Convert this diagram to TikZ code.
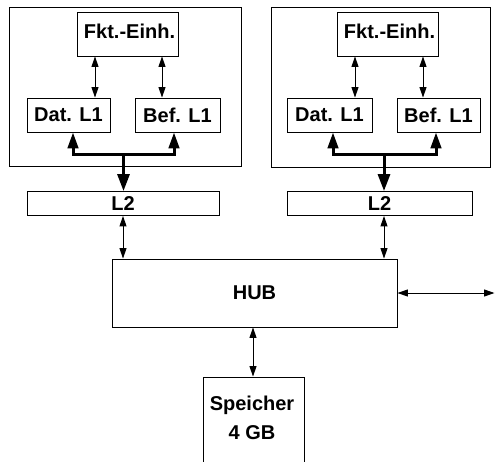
\documentclass[tikz,border=0pt]{standalone}
\usepackage{fontspec}
\setmainfont{Liberation Sans}
\usetikzlibrary{arrows.meta}
\tikzset{
  box/.style={draw, line width=0.9pt, rectangle, inner sep=0pt, font=\fontsize{20}{24}\selectfont\bfseries},
  dbl/.style={line width=1pt, {Triangle[length=10.5pt,width=7pt]}-{Triangle[length=10.5pt,width=7pt]}},
  bus/.style={line width=3pt, line join=miter, {Triangle[length=16pt,width=10.5pt]}-{Triangle[length=16pt,width=10.5pt]}},
  busdown/.style={line width=3pt, -{Triangle[length=17pt,width=12pt]}},
}
\begin{document}
\begin{tikzpicture}[x=1pt,y=-1pt]
\useasboundingbox (0,0) rectangle (495,461);
\clip (0,0) rectangle (495,461);
% left processor
\node[box, minimum width=231.5pt, minimum height=159pt] (outA) at (125.25,86.5) {};
\node[box, minimum width=101pt, minimum height=44pt, text depth=6pt] (fktA) at (127.5,34) {\hspace*{4pt}Fkt.-Einh.};
\node[box, minimum width=83pt, minimum height=34pt] (datA) at (68.5,115) {Dat. L1};
\node[box, minimum width=85pt, minimum height=34pt] (befA) at (177.5,115) {Bef. L1};
\node[box, minimum width=192pt, minimum height=24pt] (l2A) at (123,203.5) {L2};
\coordinate (jA) at (123.5,154);
% right processor
\node[box, minimum width=219pt, minimum height=160pt] (outB) at (380.5,87) {};
\node[box, minimum width=101pt, minimum height=44pt, text depth=6pt] (fktB) at (387.5,34) {\hspace*{4pt}Fkt.-Einh.};
\node[box, minimum width=85pt, minimum height=34pt] (datB) at (329.5,115) {Dat. L1};
\node[box, minimum width=83pt, minimum height=34pt] (befB) at (438.5,115) {Bef. L1};
\node[box, minimum width=185pt, minimum height=24pt] (l2B) at (379.5,203.5) {L2};
\coordinate (jB) at (384,154);
% hub and memory
\node[box, minimum width=285pt, minimum height=68pt] (hub) at (254.5,293) {HUB};
\node[box, minimum width=101pt, minimum height=110pt] (mem) at (253.5,432) {};
\node[font=\fontsize{20}{29}\selectfont\bfseries, align=center, inner sep=0pt] (memtext) at (252,418) {Speicher\\4 GB};
\coordinate (ext) at (494.5,293);
% connectors left
\draw[dbl] ([xshift=-32.5pt]fktA.south) -- ([xshift=-32.5pt]fktA.south |- datA.north);
\draw[dbl] ([xshift=34.5pt]fktA.south) -- ([xshift=34.5pt]fktA.south |- befA.north);
\draw[bus] ([xshift=4.5pt]datA.south) |- (jA) -| ([xshift=-3.5pt]befA.south);
\draw[busdown] (jA) -- (jA |- l2A.north);
% connectors right
\draw[dbl] ([xshift=-32.5pt]fktB.south) -- ([xshift=-32.5pt]fktB.south |- datB.north);
\draw[dbl] ([xshift=35.5pt]fktB.south) -- ([xshift=35.5pt]fktB.south |- befB.north);
\draw[bus] ([xshift=3.5pt]datB.south) |- (jB) -| ([xshift=-2.5pt]befB.south);
\draw[busdown] (jB) -- (jB |- l2B.north);
% L2 to hub
\draw[dbl] (l2A.south) -- (l2A.south |- hub.north);
\draw[dbl] ([xshift=4.5pt]l2B.south) -- ([xshift=4.5pt]l2B.south |- hub.north);
% hub to memory and outside
\draw[dbl] ([xshift=-1.5pt]hub.south) -- ([xshift=-1.5pt]hub.south |- mem.north);
\draw[dbl] (hub.east) -- (ext);
\end{tikzpicture}
\end{document}
